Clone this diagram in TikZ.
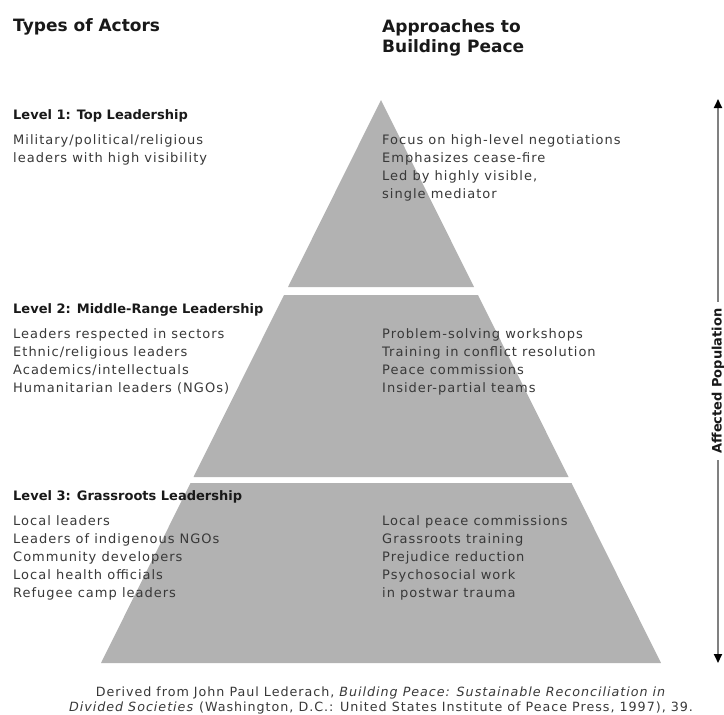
\documentclass[tikz,border=0pt]{standalone}
\usepackage{fontspec}
\setmainfont{DejaVu Sans}
\newfontfamily\spacedfont[LetterSpace=7.7]{DejaVu Sans}
\usepackage{tikz}
\usetikzlibrary{arrows.meta}

\begin{document}
\begin{tikzpicture}[x=1pt,y=-1pt]
\tikzstyle{tier}=[fill=gray!60]
\tikzstyle{colhead}=[anchor=base west, inner sep=0pt, align=left, font=\fontsize{17}{20}\selectfont\bfseries, text=black!90]
\tikzstyle{levelhead}=[anchor=base west, inner sep=0pt, font=\fontsize{13}{18}\selectfont\bfseries, text=black!90]
\tikzstyle{itemlist}=[anchor=base west, inner sep=0pt, align=left, font=\fontsize{13}{18}\spacedfont, text=black!78]
\tikzstyle{source}=[anchor=base, inner sep=0pt, align=center, font=\fontsize{12.7}{15}\spacedfont, text=black!78]
\tikzstyle{popline}=[{Triangle[length=9pt,width=8pt,color=black]}-{Triangle[length=9pt,width=8pt,color=black]}, line width=2pt, draw=black!50]
\tikzstyle{poplabel}=[rotate=90, fill=white, inner xsep=6pt, inner ysep=2pt, font=\fontsize{13}{16}\selectfont\bfseries, text=black!90]
\useasboundingbox (0,0) rectangle (724,715);
% pyramid tiers
	\coordinate (apex) at (381,100);
	\fill[tier] (apex) -- (474,287) -- (288,287) -- cycle;
	\fill[tier] (284,295) -- (478,295) -- (568.5,477) -- (193.5,477) -- cycle;
	\fill[tier] (190.5,483) -- (571.5,483) -- (661,663) -- (101,663) -- cycle;
% column headings (multi-line nodes sit on their last baseline)
	\node[colhead] (actors) at (13,31) {Types of Actors};
	\node[colhead] (approaches) at (382,52) {Approaches to\\Building Peace};
% level 1
	\node[levelhead] (lvl_1) at (13,119) {Level 1: Top Leadership};
	\node[itemlist] (act_1) at (13,162) {Military/political/religious\\leaders with high visibility};
	\node[itemlist] (app_1) at (382,198) {Focus on high-level negotiations\\Emphasizes cease-fire\\Led by highly visible,\\single mediator};
% level 2
	\node[levelhead] (lvl_2) at (13,313) {Level 2: Middle-Range Leadership};
	\node[itemlist] (act_2) at (13,392) {Leaders respected in sectors\\Ethnic/religious leaders\\Academics/intellectuals\\Humanitarian leaders (NGOs)};
	\node[itemlist] (app_2) at (382,392) {Problem-solving workshops\\Training in conflict resolution\\Peace commissions\\Insider-partial teams};
% level 3
	\node[levelhead] (lvl_3) at (13,500) {Level 3: Grassroots Leadership};
	\node[itemlist] (act_3) at (13,597) {Local leaders\\Leaders of indigenous NGOs\\Community developers\\Local health officials\\Refugee camp leaders};
	\node[itemlist] (app_3) at (382,597) {Local peace commissions\\Grassroots training\\Prejudice reduction\\Psychosocial work\\in postwar trauma};
% affected population
	\coordinate (popTop) at (718,99);
	\coordinate (popBot) at (718,663);
	\draw[popline] (popTop) -- node[poplabel] (pop) {Affected Population} (popBot);
% source
	\node[source] (cite) at (381,711) {Derived from John Paul Lederach, \textit{Building Peace: Sustainable Reconciliation in}\\\textit{Divided Societies} (Washington, D.C.: United States Institute of Peace Press, 1997), 39.};
\end{tikzpicture}
\end{document}
